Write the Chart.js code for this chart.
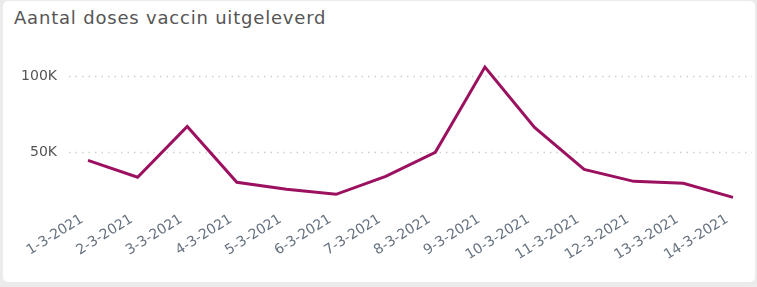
<!DOCTYPE html>
<html>
<head>
<meta charset="utf-8">
<script src="https://cdn.jsdelivr.net/npm/chart.js@4/dist/chart.umd.min.js"></script>
<style>
    html, body { margin: 0; padding: 0; }
    body { width: 757px; height: 287px; background: #ebebeb; position: relative; overflow: hidden; }
    .card { position: absolute; left: 3px; top: 1px; width: 752px; height: 281px; background: #fff; border-radius: 5px; }
    .title { position: absolute; left: 14px; top: 7px; font-family: "DejaVu Sans", sans-serif; font-size: 18px; letter-spacing: 0.8px; color: #555; }
    #wrap { position: absolute; left: 0; top: 0; width: 757px; height: 287px; }
</style>
</head>
<body>
<div class="card"></div>
<div class="title">Aantal doses vaccin uitgeleverd</div>
<div id="wrap"><canvas id="mainChart"></canvas></div>
<script>
// 数据
const dates = ['1-3-2021', '2-3-2021', '3-3-2021', '4-3-2021', '5-3-2021', '6-3-2021', '7-3-2021',
    '8-3-2021', '9-3-2021', '10-3-2021', '11-3-2021', '12-3-2021', '13-3-2021', '14-3-2021'];
const doses = [44700, 33600, 67000, 30300, 25700, 22400, 34200,
    50000, 106000, 66400, 38800, 30900, 29600, 20400];
const yTicks = [50000, 100000];
const yMin = 18000;
const yMax = 110000;

// 虚线网格 (从图表区左侧延伸)
const dottedGrid = {
    id: 'dottedGrid',
    beforeDatasetsDraw(chart) {
        const ctx = chart.ctx;
        const y = chart.scales.y;
        ctx.save();
        ctx.strokeStyle = '#cfcfcf';
        ctx.lineWidth = 1.5;
        ctx.setLineDash([1.5, 5]);
        yTicks.forEach(v => {
            const py = Math.round(y.getPixelForValue(v)) + 0.5;
            ctx.beginPath();
            ctx.moveTo(69, py);
            ctx.lineTo(752, py);
            ctx.stroke();
        });
        ctx.restore();
    }
};

const ctx = document.getElementById('mainChart').getContext('2d');
new Chart(ctx, {
    type: 'line',
    data: {
        labels: dates,
        datasets: [{
            label: 'Aantal doses',
            data: doses,
            borderColor: '#9c1060',
            borderWidth: 3,
            pointRadius: 0,
            tension: 0,
            fill: false
        }]
    },
    options: {
        responsive: true,
        maintainAspectRatio: false,
        animation: false,
        layout: { padding: { top: 61, right: 24, left: 0, bottom: 0 } },
        plugins: {
            legend: { display: false },
            tooltip: { enabled: false }
        },
        scales: {
            x: {
                offset: false,
                grid: { display: false, drawTicks: false },
                border: { display: false },
                ticks: {
                    autoSkip: false,
                    maxRotation: 32,
                    minRotation: 32,
                    padding: 10,
                    labelOffset: -6,
                    color: '#66727f',
                    font: { family: 'DejaVu Sans', size: 14 }
                },
                afterFit(scale) { scale.height = 86; }
            },
            y: {
                min: yMin,
                max: yMax,
                grid: { display: false, drawTicks: false },
                border: { display: false },
                afterBuildTicks(scale) { scale.ticks = yTicks.map(v => ({ value: v })); },
                afterFit(scale) { scale.width = 88; },
                ticks: {
                    padding: 31,
                    color: '#555',
                    font: { family: 'DejaVu Sans', size: 14 },
                    callback: v => (v / 1000) + 'K'
                }
            }
        }
    },
    plugins: [dottedGrid]
});
</script>
</body>
</html>
